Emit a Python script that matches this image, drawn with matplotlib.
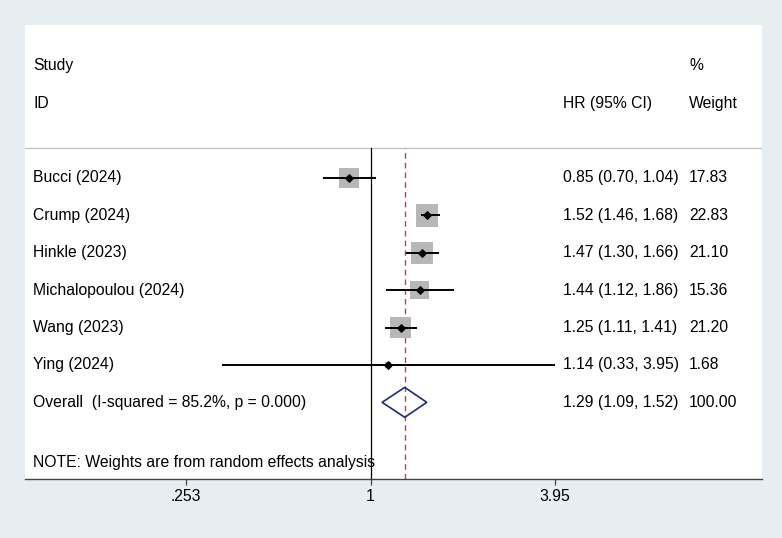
import numpy as np
import matplotlib.pyplot as plt
from matplotlib.patches import Polygon
import matplotlib.transforms as mtransforms

# study-level data
studies = ["Bucci (2024)", "Crump (2024)", "Hinkle (2023)",
           "Michalopoulou (2024)", "Wang (2023)", "Ying (2024)"]
hr = [0.85, 1.52, 1.47, 1.44, 1.25, 1.14]
lo = [0.70, 1.46, 1.30, 1.12, 1.11, 0.33]
hi = [1.04, 1.68, 1.66, 1.86, 1.41, 3.95]
weights = [17.83, 22.83, 21.10, 15.36, 21.20, 1.68]

# pooled estimate
overall_label = "Overall  (I-squared = 85.2%, p = 0.000)"
overall_hr, overall_lo, overall_hi = 1.29, 1.09, 1.52
overall_weight = 100.00

tick_vals = [0.253, 1, 3.95]
tick_labels = [".253", "1", "3.95"]

plt.rcParams['font.family'] = ['Liberation Sans', 'DejaVu Sans']
fs = 11.3

fig = plt.figure(figsize=(7.82, 5.38), dpi=100)
fig.patch.set_facecolor('#e7eef2')
ax = fig.add_axes([25 / 782, 59 / 538, 737 / 782, 454 / 538])
ax.set_facecolor('white')

ax.set_xscale('log')
ax.set_xlim(0.0763, 18.45)
ax.set_ylim(8.05, -4.09)

n = len(studies)
rows = np.arange(n)
overall_row = n
sep_row = -0.8

# reference line at 1 and pooled dashed line
ax.plot([1, 1], [8.05, sep_row], color='black', lw=0.9, zorder=2)
ax.plot([overall_hr, overall_hr], [8.05, sep_row], color='#b5475a', lw=1.0,
        ls=(0, (4, 3)), zorder=2)
ax.axhline(sep_row, color='#c4c4c4', lw=1.0, zorder=1)

# weight squares, CI lines, point estimates
sides_pt = 4.7 * np.sqrt(weights) * 0.72
ax.scatter(hr, rows, marker='s', s=sides_pt ** 2, color='#b7b7b7',
           edgecolors='none', zorder=3)
ax.hlines(rows, lo, hi, color='black', lw=1.4, zorder=4)
ax.scatter(hr, rows, marker='D', s=14, color='black', zorder=5)

# overall diamond
dia = Polygon([[overall_lo, overall_row], [overall_hr, overall_row - 0.4],
               [overall_hi, overall_row], [overall_hr, overall_row + 0.4]],
              closed=True, fill=False, edgecolor='#1f2a80', lw=1.2, zorder=4)
ax.add_patch(dia)

# text columns
tr = mtransforms.blended_transform_factory(ax.transAxes, ax.transData)
x_lab, x_hr, x_w = 0.0109, 0.730, 0.901
ax.text(x_lab, -3, "Study", transform=tr, va='center', fontsize=fs)
ax.text(x_lab, -2, "ID", transform=tr, va='center', fontsize=fs)
ax.text(x_hr, -2, "HR (95% CI)", transform=tr, va='center', fontsize=fs)
ax.text(x_w, -3, "%", transform=tr, va='center', fontsize=fs)
ax.text(x_w, -2, "Weight", transform=tr, va='center', fontsize=fs)

for i in range(n):
    ax.text(x_lab, rows[i], studies[i], transform=tr, va='center', fontsize=fs)
    ax.text(x_hr, rows[i], f"{hr[i]:.2f} ({lo[i]:.2f}, {hi[i]:.2f})",
            transform=tr, va='center', fontsize=fs)
    ax.text(x_w, rows[i], f"{weights[i]:.2f}", transform=tr, va='center', fontsize=fs)

ax.text(x_lab, overall_row, overall_label, transform=tr, va='center', fontsize=fs)
ax.text(x_hr, overall_row, f"{overall_hr:.2f} ({overall_lo:.2f}, {overall_hi:.2f})",
        transform=tr, va='center', fontsize=fs)
ax.text(x_w, overall_row, f"{overall_weight:.2f}", transform=tr, va='center', fontsize=fs)
ax.text(x_lab, 7.6, "NOTE: Weights are from random effects analysis",
        transform=tr, va='center', fontsize=fs, zorder=1)

# axes styling
for side in ['top', 'right', 'left']:
    ax.spines[side].set_visible(False)
ax.spines['bottom'].set_color('#444444')
ax.spines['bottom'].set_linewidth(1.0)
ax.set_yticks([])
ax.set_xticks(tick_vals)
ax.set_xticklabels(tick_labels, fontsize=fs)
ax.xaxis.set_minor_locator(plt.NullLocator())
ax.tick_params(axis='x', length=4.5, width=0.9, color='#444444', pad=3)

fig.savefig("out.png", dpi=100, facecolor=fig.get_facecolor())
